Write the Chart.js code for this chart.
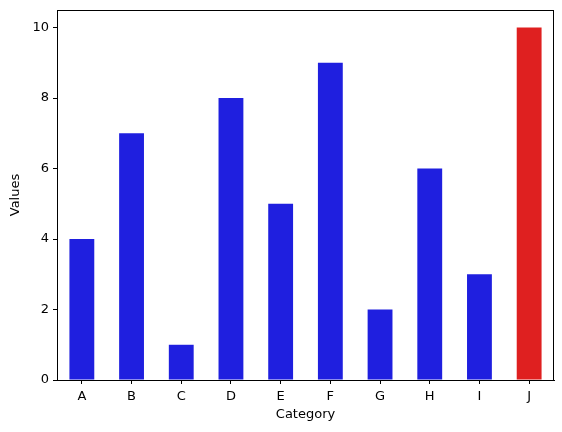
<!DOCTYPE html>
<html>
<head>
<meta charset="utf-8">
<script src="https://cdn.jsdelivr.net/npm/chart.js@4"></script>
<style>
  body { margin: 0; background: #fff; }
  canvas { display: block; }
</style>
</head>
<body>
<canvas id="chart" width="562" height="432"></canvas>
<script>
const categories = ['A', 'B', 'C', 'D', 'E', 'F', 'G', 'H', 'I', 'J'];
const values = [4, 7, 1, 8, 5, 9, 2, 6, 3, 10];
const yTicks = [0, 2, 4, 6, 8, 10];

const maxValue = Math.max(...values);
const barColors = values.map(v => v === maxValue ? '#df2020' : '#1f1fdf');

// box around the plot area, like matplotlib's spines
const frame = {
    id: 'frame',
    afterDraw(chart) {
        const { ctx, chartArea: a } = chart;
        ctx.save();
        ctx.strokeStyle = '#000';
        ctx.lineWidth = 1;
        ctx.strokeRect(a.left + 0.5, a.top + 0.5, a.right - a.left - 1, a.bottom - a.top);
        ctx.restore();
    }
};

Chart.defaults.font.family = 'DejaVu Sans';
Chart.defaults.font.size = 13;
Chart.defaults.color = '#000';

new Chart(document.getElementById('chart'), {
    type: 'bar',
    data: {
        labels: categories,
        datasets: [{
            data: values,
            backgroundColor: barColors,
            categoryPercentage: 1,
            barPercentage: 0.5,
        }]
    },
    options: {
        responsive: false,
        animation: false,
        layout: { padding: { top: 10, right: 8, left: 0, bottom: 0 } },
        plugins: { legend: { display: false }, tooltip: { enabled: false } },
        scales: {
            x: {
                grid: { offset: false, drawOnChartArea: false, drawTicks: true, tickLength: 4, color: '#000' },
                border: { color: '#000' },
                ticks: { padding: 5 },
                title: { display: true, text: 'Category', padding: { top: 2, bottom: 10 } },
                afterFit(scale) { scale.height = 52; }
            },
            y: {
                min: 0,
                max: 10.5,
                afterBuildTicks(scale) { scale.ticks = yTicks.map(v => ({ value: v })); },
                grid: { drawOnChartArea: false, drawTicks: true, tickLength: 4, color: '#000' },
                border: { color: '#000' },
                ticks: { padding: 4 },
                title: { display: true, text: 'Values', padding: { top: 8, bottom: 6 } },
                afterFit(scale) {
                    scale.width = 57;
                    scale.paddingTop = 0;
                    scale.paddingBottom = 0;
                }
            }
        }
    },
    plugins: [frame]
});
</script>
</body>
</html>
